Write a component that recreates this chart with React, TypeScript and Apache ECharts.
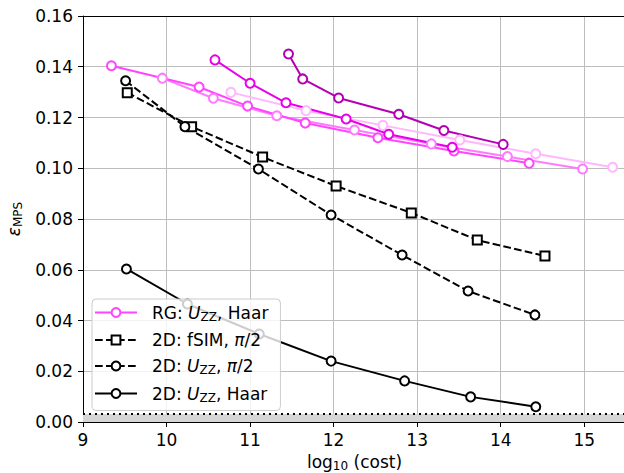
import React, { useEffect, useRef } from "react";
import * as echarts from "echarts";

// RG: U_ZZ, Haar — several runs (light to dark)
const rgA_x = [9.34, 10.39, 10.97, 11.66, 12.53, 13.44, 14.34];
const rgA_y = [0.1404, 0.132, 0.1245, 0.1178, 0.112, 0.1068, 0.102];
const rgB_x = [9.95, 10.56, 11.32, 12.25, 13.17, 14.08, 14.98];
const rgB_y = [0.1355, 0.1276, 0.1207, 0.1151, 0.1096, 0.1046, 0.0997];
const rgC_x = [10.58, 11.0, 11.43, 12.15, 12.66, 13.42];
const rgC_y = [0.1427, 0.1335, 0.1258, 0.1194, 0.1134, 0.1083];
const rgD_x = [11.46, 11.63, 12.06, 12.78, 13.32, 14.03];
const rgD_y = [0.145, 0.1352, 0.1277, 0.1213, 0.1149, 0.1094];
const rgE_x = [10.77, 11.67, 12.59, 13.51, 14.42, 15.34];
const rgE_y = [0.1299, 0.1227, 0.1169, 0.1111, 0.1057, 0.1004];

// 2D: fSIM, pi/2
const fsim_x = [9.53, 10.3, 11.15, 12.03, 12.93, 13.72, 14.53];
const fsim_y = [0.1298, 0.1164, 0.1044, 0.093, 0.0824, 0.0717, 0.0654];
// 2D: U_ZZ, pi/2
const uzzPi_x = [9.51, 10.22, 11.1, 11.97, 12.82, 13.61, 14.41];
const uzzPi_y = [0.1345, 0.1164, 0.0997, 0.0816, 0.0658, 0.0516, 0.0422];
// 2D: U_ZZ, Haar
const uzzHaar_x = [9.52, 10.25, 11.11, 11.97, 12.85, 13.64, 14.42];
const uzzHaar_y = [0.0603, 0.0465, 0.0347, 0.024, 0.0162, 0.0099, 0.006];

// floor band
const floorLevel = 0.00315;
const xRange = [9, 15.5];

const xTicks = [9, 10, 11, 12, 13, 14, 15];

const FONT = "DejaVu Sans";

const zip = (xs: number[], ys: number[]) => xs.map((x, i) => [x, ys[i]]);

export default function App() {
  const ref = useRef<HTMLDivElement>(null);
  useEffect(() => {
    if (!ref.current) return;
    const chart = echarts.init(ref.current, null, { renderer: "svg", width: 624, height: 473 });

    const rich = {
      n: { fontFamily: FONT, fontSize: 17, lineHeight: 20, color: "#000" },
      i: { fontFamily: FONT, fontStyle: "italic", fontSize: 17, lineHeight: 20, color: "#000" },
      s: { fontFamily: FONT, fontSize: 12, lineHeight: 12, verticalAlign: "bottom", color: "#000" },
    };
    const labels: Record<string, string> = {
      RG: "{n|RG: }{i|U}{s|ZZ}{n|, Haar}",
      fSIM: "{n|2D: fSIM, }{i|π}{n|/2}",
      UZZpi: "{n|2D: }{i|U}{s|ZZ}{n|, }{i|π}{n|/2}",
      UZZHaar: "{n|2D: }{i|U}{s|ZZ}{n|, Haar}",
    };

    const rgSeries = (name: string, xs: number[], ys: number[], color: string) => ({
      name,
      type: "line",
      data: zip(xs, ys),
      symbol: "emptyCircle",
      symbolSize: 9,
      lineStyle: { color, width: 2 },
      itemStyle: { color, borderColor: color, borderWidth: 1.5 },
      z: 4,
    });
    const blackSeries = (name: string, xs: number[], ys: number[], symbol: string, dashed: boolean) => ({
      name,
      type: "line",
      data: zip(xs, ys),
      symbol,
      symbolSize: 9,
      lineStyle: { color: "#000", width: 2, type: dashed ? [7.7, 3.3] : "solid" },
      itemStyle: { color: "#000", borderColor: "#000", borderWidth: 1.5 },
      z: 3,
    });

    chart.setOption({
      animation: false,
      grid: { left: 83, top: 16, right: -2, bottom: 51, containLabel: false, outerBoundsMode: "none" },
      xAxis: [
        {
          type: "value",
          min: xRange[0],
          max: xRange[1],
          interval: 1,
          name: "{n|log}{s|10}{n| (cost)}",
          nameLocation: "middle",
          nameGap: 30,
          nameTextStyle: { rich },
          axisLine: { show: true, onZero: false, lineStyle: { color: "#000", width: 1 } },
          axisTick: { show: true, length: 5, lineStyle: { color: "#000" } },
          axisLabel: {
            show: true,
            margin: 9,
            fontFamily: FONT,
            fontSize: 17,
            color: "#000",
            formatter: (v: number) => (xTicks.indexOf(v) >= 0 ? String(v) : ""),
          },
          splitLine: { show: true, lineStyle: { color: "#bdbdbd", width: 1 } },
        },
        {
          type: "value",
          position: "top",
          min: xRange[0],
          max: xRange[1],
          axisLine: { show: true, onZero: false, lineStyle: { color: "#000", width: 1 } },
          axisTick: { show: false },
          axisLabel: { show: false },
          splitLine: { show: false },
        },
      ],
      yAxis: {
        type: "value",
        min: 0,
        max: 0.16,
        interval: 0.02,
        name: "{e|ε}{s|MPS}",
        nameLocation: "middle",
        nameRotate: 90,
        nameGap: 58,
        nameTextStyle: {
          rich: {
            e: { fontFamily: FONT, fontStyle: "italic", fontSize: 17, lineHeight: 20, color: "#000" },
            s: { fontFamily: FONT, fontSize: 12, lineHeight: 12, verticalAlign: "bottom", color: "#000" },
          },
        },
        axisLine: { show: true, onZero: false, lineStyle: { color: "#000", width: 1 } },
        axisTick: { show: true, length: 5, lineStyle: { color: "#000" } },
        axisLabel: {
          margin: 10,
          fontFamily: FONT,
          fontSize: 17,
          color: "#000",
          formatter: (v: number) => v.toFixed(2),
        },
        splitLine: { show: true, lineStyle: { color: "#bdbdbd", width: 1 } },
      },
      legend: {
        orient: "vertical",
        left: 92,
        top: 299,
        data: ["RG", "fSIM", "UZZpi", "UZZHaar"],
        itemWidth: 42,
        itemHeight: 11,
        itemGap: 9,
        padding: [5, 12, 7, 2],
        backgroundColor: "rgba(255,255,255,0.8)",
        borderColor: "#cccccc",
        borderWidth: 1,
        borderRadius: 4,
        textStyle: { fontFamily: FONT, fontSize: 17, color: "#000", padding: [0, 0, 0, 10], rich },
        formatter: (name: string) => labels[name] || name,
      },
      series: [
        {
          name: "floor",
          type: "line",
          data: [
            [xRange[0], floorLevel],
            [xRange[1], floorLevel],
          ],
          symbol: "none",
          lineStyle: { color: "#000", width: 2, type: [2, 4] },
          areaStyle: { color: "#d6d6d6", opacity: 1, origin: "start" },
          z: 2,
        },
        blackSeries("fSIM", fsim_x, fsim_y, "emptyRect", true),
        blackSeries("UZZpi", uzzPi_x, uzzPi_y, "emptyCircle", true),
        blackSeries("UZZHaar", uzzHaar_x, uzzHaar_y, "emptyCircle", false),
        rgSeries("rgE", rgE_x, rgE_y, "#ffb8ff"),
        rgSeries("rgB", rgB_x, rgB_y, "#ff7aff"),
        rgSeries("RG", rgA_x, rgA_y, "#ff45ff"),
        rgSeries("rgC", rgC_x, rgC_y, "#e800e8"),
        rgSeries("rgD", rgD_x, rgD_y, "#b400b4"),
      ],
    });
    return () => chart.dispose();
  }, []);
  return (
    <div
      ref={ref}
      style={{ position: "absolute", left: 0, top: 0, width: 624, height: 473, background: "#fff" }}
    />
  );
}
